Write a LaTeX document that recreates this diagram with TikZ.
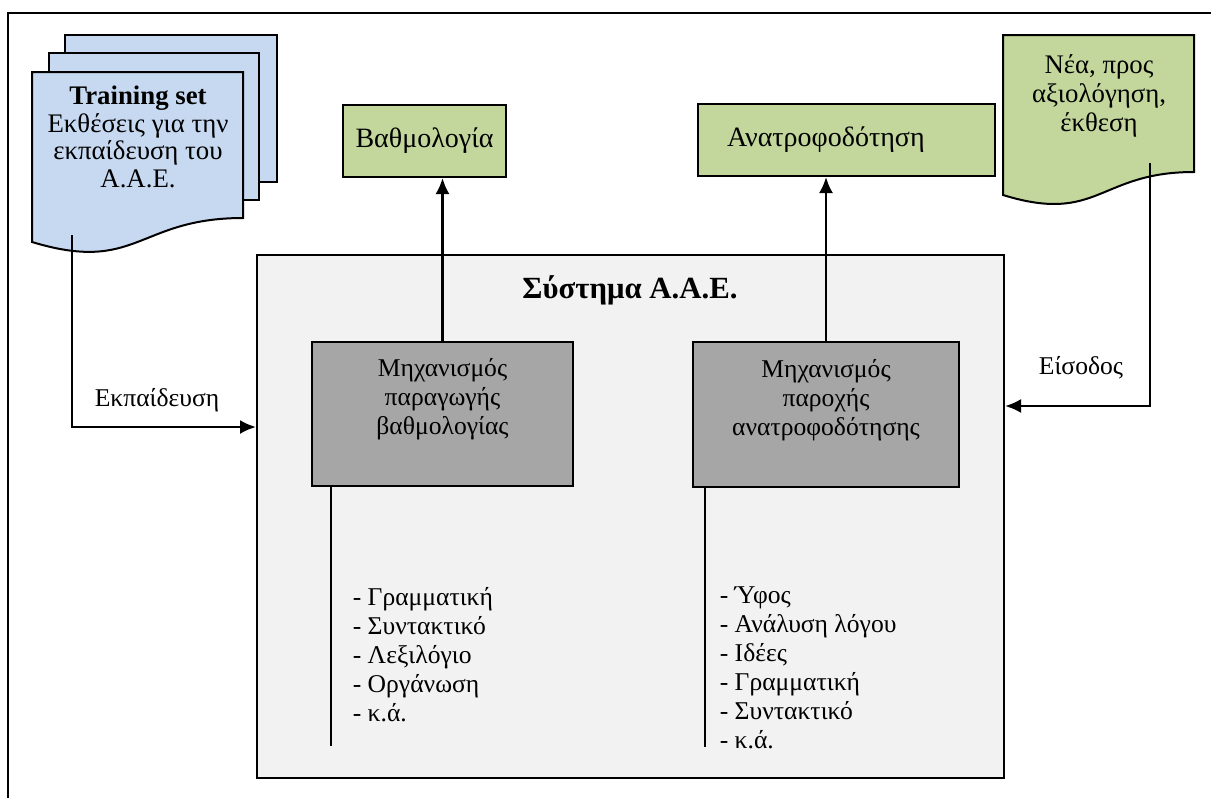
\documentclass[tikz,border=0pt]{standalone}
\usepackage{fontspec}
\setmainfont{Liberation Serif}
\usetikzlibrary{arrows.meta,positioning}

\definecolor{docblue}{HTML}{C6D9F1}
\definecolor{docgreen}{HTML}{C3D69B}
\definecolor{sysgrey}{HTML}{F2F2F2}
\definecolor{mechgrey}{HTML}{A6A6A6}

\tikzset{
  txt/.style={font=\fontsize{12.8}{14.5}\selectfont, align=center, inner sep=0pt},
  doctxt/.style={txt, font=\fontsize{13.4}{13.8}\selectfont},
  outbox/.style={draw, line width=1pt, fill=docgreen, font=\fontsize{14}{16}\selectfont},
  mechbox/.style={draw, line width=1pt, fill=mechgrey},
  flow/.style={->, line width=1.2pt}
}

\begin{document}
\begin{tikzpicture}[>={Latex[length=8pt,width=7pt]},x=0.5pt,y=-0.5pt,thick]
\useasboundingbox (0,0) rectangle (1211,798);

% Rahmen
\draw[line width=1pt] (8,798) -- (8,13) -- (1211,13);

% Trainingsdokumente
\filldraw[fill=docblue, line width=1pt] (65,35) rectangle (277,182);
\filldraw[fill=docblue, line width=1pt] (49,53) rectangle (259,200);
\filldraw[fill=docblue, line width=1pt] (32,72) -- (243,72) -- (243,218)
  .. controls (137.5,218) and (137.5,274) .. (32,242) -- cycle;
\node[doctxt] (train) at (138,137)
  {\textbf{Training set}\\Εκθέσεις για την\\εκπαίδευση του\\Α.Α.Ε.};

% Neue Arbeit
\filldraw[fill=docgreen, line width=1pt] (1003,35) -- (1194,35) -- (1194,172)
  .. controls (1098.5,172) and (1098.5,224.5) .. (1003,195) -- cycle;
\node[doctxt, font=\fontsize{13.4}{14.5}\selectfont] (new) at (1099,96)
  {Νέα, προς\\αξιολόγηση,\\έκθεση};

% System
\node[draw, line width=1pt, fill=sysgrey, minimum width=373.5pt,
  minimum height=261.5pt, inner sep=0pt] (sys) at (630.5,516.5) {};
\node[txt, font=\fontsize{15.4}{17}\selectfont\bfseries] (systitle) at (630,290)
  {Σύστημα Α.Α.Ε.};

% Mechanismen
\node[mechbox, minimum width=130.5pt, minimum height=72pt] (mscore) at (442.5,414) {};
\node[txt] (mscoretxt) at (442.5,399) {Μηχανισμός\\παραγωγής\\βαθμολογίας};
\node[mechbox, minimum width=133pt, minimum height=72.5pt] (mfeed) at (826,414.5) {};
\node[txt] (mfeedtxt) at (826,400) {Μηχανισμός\\παροχής\\ανατροφοδότησης};

% Ausgaben
\node[outbox, minimum width=81.5pt, minimum height=36pt] (score) at (424.5,141) {Βαθμολογία};
\node[outbox, minimum width=148.5pt, minimum height=36pt, text width=119.5pt,
  inner xsep=14.5pt, align=left] (feed) at (846.5,140) {Ανατροφοδότηση};
\draw[flow] (mscore.north) -- (mscore.north |- score.south);
\draw[flow] (mfeed.north) -- (mfeed.north |- feed.south);

% Training
\coordinate (trainfoot) at (72,235);
\draw[flow] (trainfoot) |- (sys.west |- 0,427);
\node[txt] (trainlbl) at (157,400) {Εκπαίδευση};

% Eingabe
\coordinate (newfoot) at (1150,163);
\draw[flow] (newfoot) |- (sys.east |- 0,406);
\node[txt] (inlbl) at (1081,368) {Είσοδος};

% Kriterien
\draw[line width=1pt] ([xshift=10pt]mscore.south west) -- ++(0,259);
\draw[line width=1pt] ([xshift=6.5pt]mfeed.south west) -- ++(0,259);
\node[txt, align=left, anchor=west] (scorelist) at (352,655)
  {- Γραμματική\\- Συντακτικό\\- Λεξιλόγιο\\- Οργάνωση\\- κ.ά.};
\node[txt, align=left, anchor=west] (feedlist) at (719,668)
  {- Ύφος\\- Ανάλυση λόγου\\- Ιδέες\\- Γραμματική\\- Συντακτικό\\- κ.ά.};

\end{tikzpicture}
\end{document}
